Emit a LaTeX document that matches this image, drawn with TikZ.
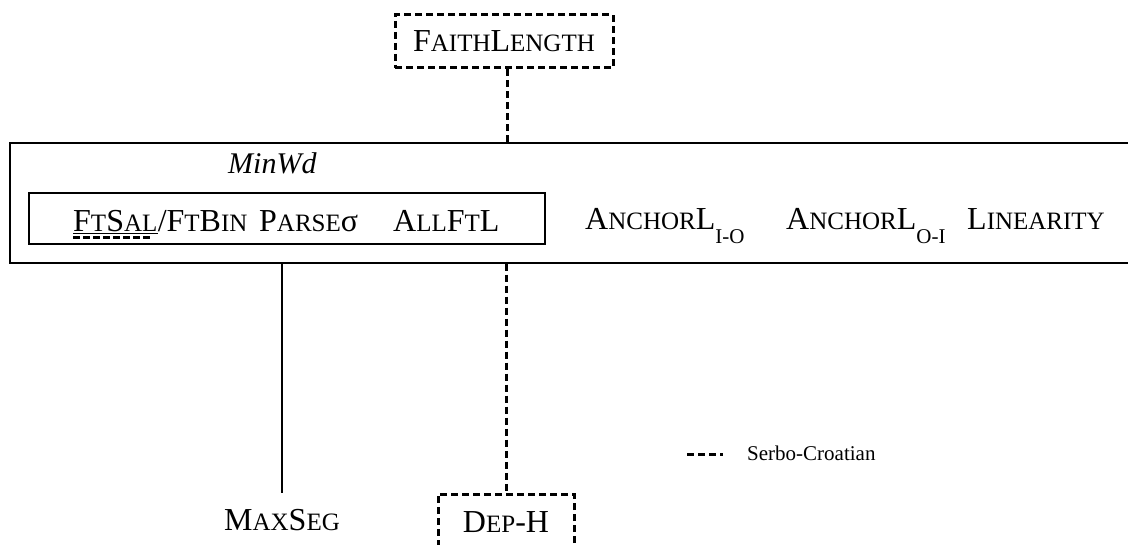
\documentclass[tikz,border=0pt]{standalone}
\usepackage{fontspec}
\setmainfont{Liberation Serif}
\newcommand\SCx[1]{{\fontsize{25}{25}\selectfont #1}}
\newcommand\SUBx[1]{\raisebox{-14pt}{\fontsize{21}{21}\selectfont #1}}
\begin{document}
\begin{tikzpicture}[x=1pt,y=-1pt,
  txt/.style={inner sep=0pt,font=\fontsize{32}{32}\selectfont},
  solidbox/.style={draw,line width=1.5pt,inner sep=0pt},
  dashbox/.style={draw,line width=3pt,dash pattern=on 7pt off 4pt,inner sep=0pt},
  dashline/.style={line width=3pt,dash pattern=on 7pt off 4pt},
  solidline/.style={line width=1.5pt}]
\useasboundingbox (0,0) rectangle (1128,545);
\clip (0,0) rectangle (1128,545);
% boxes
\node[dashbox,minimum width=218pt,minimum height=53pt,txt] (faith) at (504,41.5) {F\SCx{AITH}L\SCx{ENGTH}};
\node[solidbox,minimum width=1140pt,minimum height=120pt] (big) at (580,203) {};
\node[solidbox,minimum width=516pt,minimum height=51pt] (inner) at (287,218.5) {};
% texts
\node[txt,anchor=base west,font=\fontsize{30}{30}\selectfont\itshape] (minwd) at (228,174) {MinWd};
\node[txt,anchor=base west] (ftsal) at (73,232) {F\SCx{T}S\SCx{AL}};
\node[txt,anchor=base west] (ftbin) at (ftsal.base east) {/F\SCx{T}B\SCx{IN}};
\node[txt,anchor=base west] (parse) at (259,232) {P\SCx{ARSE}σ};
\node[txt,anchor=base west] (allft) at (393,232) {A\SCx{LL}F\SCx{T}L};
\node[txt,anchor=base west] (anchio) at (585,230) {A\SCx{NCHOR}L\SUBx{I-O}};
\node[txt,anchor=base west] (anchoi) at (786,230) {A\SCx{NCHOR}L\SUBx{O-I}};
\node[txt,anchor=base west] (lin) at (967,230) {L\SCx{INEARITY}};
% underline
\draw[line width=1pt] ([yshift=-2pt]ftsal.base west) -- ([yshift=-2pt]ftsal.base east);
\draw[line width=3pt,dash pattern=on 7pt off 3pt] ([yshift=-6pt]ftsal.base west) -- ([yshift=-6pt,xshift=-8pt]ftsal.base east);
% lower nodes
\node[txt] (maxseg) at (282,520) {M\SCx{AX}S\SCx{EG}};
\coordinate (maxtop) at (282,493);
\node[dashbox,minimum width=136pt,minimum height=56pt,txt] (deph) at (506,522) {D\SCx{EP}-H};
% connectors
\draw[dashline] (faith.south -| 507,0) -- (big.north -| 507,0);
\draw[solidline] (big.south -| maxtop) -- (maxtop);
\draw[dashline] (big.south -| deph.north) -- (deph.north);
% legend
\coordinate (lega) at (687,454);
\coordinate (legb) at (727,454);
\draw[line width=3pt,dash pattern=on 7pt off 4pt on 7pt off 4pt on 7pt off 4pt on 3pt off 10pt] (lega) -- (legb);
\node[inner sep=0pt,anchor=west,font=\fontsize{21}{21}\selectfont] (legt) at (747,453) {Serbo-Croatian};
\end{tikzpicture}
\end{document}
